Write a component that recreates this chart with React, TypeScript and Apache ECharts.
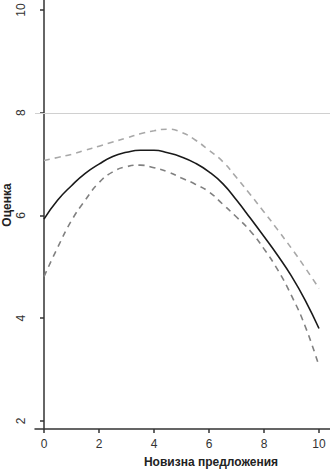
import React, { useEffect, useRef } from "react";
import * as echarts from "echarts";

const xValues = [0, 0.5, 1, 1.5, 2, 2.5, 3, 3.5, 4, 4.5, 5, 5.5, 6, 6.5, 7, 7.5, 8, 8.5, 9, 9.5, 10];
const estimate = [5.93, 6.3, 6.58, 6.82, 7.0, 7.15, 7.23, 7.27, 7.27, 7.22, 7.14, 7.02, 6.85, 6.62, 6.3, 5.95, 5.59, 5.22, 4.82, 4.35, 3.8];
const upperBound = [7.07, 7.13, 7.19, 7.27, 7.35, 7.43, 7.51, 7.59, 7.65, 7.68, 7.62, 7.47, 7.27, 7.05, 6.74, 6.41, 6.07, 5.72, 5.36, 4.98, 4.58];
const lowerBound = [4.81, 5.38, 5.9, 6.3, 6.64, 6.85, 6.95, 6.98, 6.93, 6.85, 6.73, 6.61, 6.46, 6.22, 5.97, 5.7, 5.35, 4.94, 4.44, 3.84, 3.07];
const xTicks = [0, 2, 4, 6, 8, 10];
const yTicks = [2, 4, 6, 8, 10];
const referenceLevel = 8;
const xTitle = "Новизна предложения";
const yTitle = "Оценка";

const FONT = "Liberation Sans";

export default function App() {
  const ref = useRef<HTMLDivElement>(null);
  useEffect(() => {
    if (!ref.current) return;
    const chart = echarts.init(ref.current, null, { renderer: "svg" });
    const pairs = (ys: number[]) => xValues.map((x, i) => [x, ys[i]]);
    const axisCommon = {
      axisLine: { show: true, lineStyle: { color: "#333", width: 1.5 } },
      axisTick: { show: true, inside: false, length: 4, lineStyle: { color: "#333", width: 1.5 } },
      splitLine: { show: false },
    };
    chart.setOption({
      animation: false,
      backgroundColor: "#fff",
      grid: { left: 35, right: 0, top: 0, bottom: 41, containLabel: false },
      xAxis: {
        type: "value",
        min: -0.327,
        max: 10.4,
        ...axisCommon,
        axisTick: { ...axisCommon.axisTick, customValues: xTicks },
        axisLabel: {
          customValues: xTicks,
          color: "#333",
          fontSize: 12,
          fontFamily: FONT,
          margin: 9,
        },
      },
      yAxis: {
        type: "value",
        min: 1.844,
        max: 10.195,
        ...axisCommon,
        axisTick: { ...axisCommon.axisTick, customValues: yTicks },
        axisLabel: {
          customValues: yTicks,
          color: "#333",
          fontSize: 12,
          fontFamily: FONT,
          rotate: 90,
          margin: 8,
        },
      },
      series: [
        {
          type: "line",
          data: pairs(upperBound),
          smooth: true,
          showSymbol: false,
          lineStyle: { color: "#a8a8a8", width: 1.6, type: [6, 5] },
          markLine: {
            silent: true,
            symbol: "none",
            label: { show: false },
            lineStyle: { color: "#d0d0d0", width: 1, type: "solid" },
            data: [{ yAxis: referenceLevel }],
          },
          z: 2,
        },
        {
          type: "line",
          data: pairs(lowerBound),
          smooth: true,
          showSymbol: false,
          lineStyle: { color: "#808080", width: 1.6, type: [6, 5] },
          z: 2,
        },
        {
          type: "line",
          data: pairs(estimate),
          smooth: true,
          showSymbol: false,
          lineStyle: { color: "#1a1a1a", width: 1.6 },
          z: 3,
        },
      ],
      graphic: [
        {
          type: "text",
          x: 211,
          y: 462,
          style: {
            text: xTitle,
            font: `bold 12px "${FONT}"`,
            fill: "#222",
            textAlign: "center",
            textVerticalAlign: "middle",
          },
        },
        {
          type: "text",
          x: 7,
          y: 205,
          rotation: Math.PI / 2,
          style: {
            text: yTitle,
            font: `bold 12px "${FONT}"`,
            fill: "#222",
            textAlign: "center",
            textVerticalAlign: "middle",
          },
        },
      ],
    });
    return () => chart.dispose();
  }, []);
  return (
    <div
      ref={ref}
      style={{ position: "fixed", left: 0, top: 0, width: 330, height: 470, background: "#fff" }}
    />
  );
}
